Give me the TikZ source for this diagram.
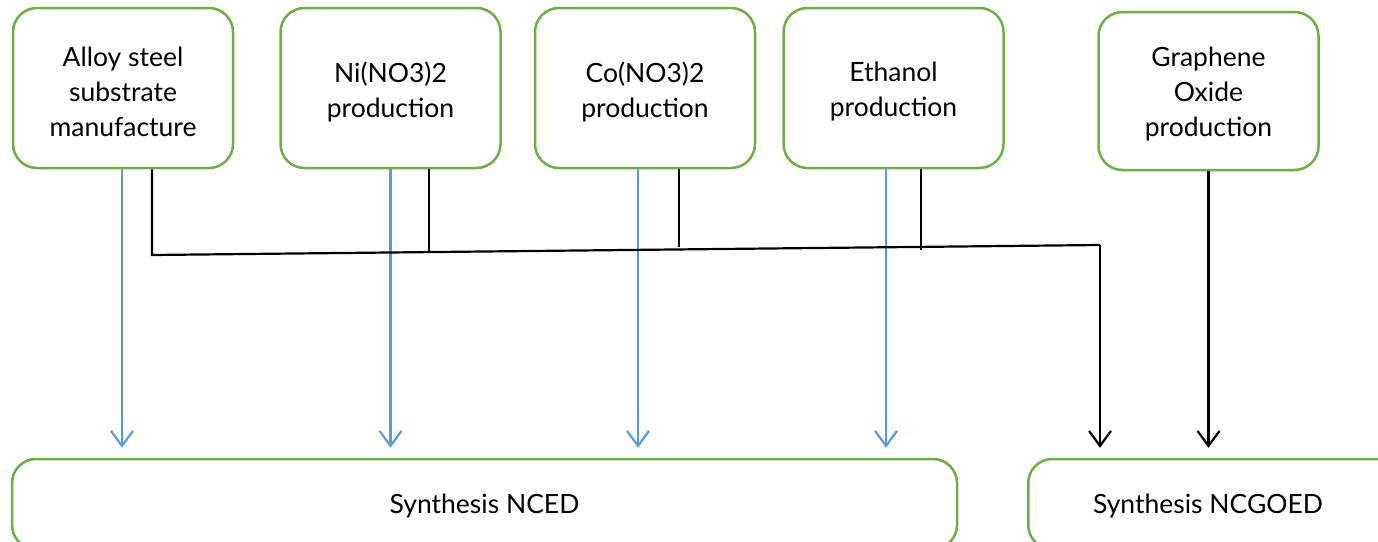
\documentclass[tikz,border=0pt]{standalone}
\usepackage{fontspec}
\setmainfont{Lato}
\usetikzlibrary{arrows.meta,calc}
\definecolor{boxgreen}{HTML}{70AD47}
\definecolor{arrowblue}{HTML}{5B9BD5}
\begin{document}
\begin{tikzpicture}[x=1pt,y=-1pt,
  srcbox/.style={draw=boxgreen,line width=2.5pt,rounded corners=24pt,fill=white,
    minimum width=220pt,minimum height=160pt,inner sep=0pt},
  synbox/.style={draw=boxgreen,line width=2.5pt,rounded corners=24pt,fill=white,
    minimum height=90pt,inner sep=0pt},
  txt/.style={align=center,font=\fontsize{26.5}{35}\selectfont,inner sep=0pt},
  bluearrow/.style={draw=arrowblue,line width=2.2pt,-{Straight Barb[length=15pt,width=22pt,line width=2.2pt]}},
  blackarrow/.style={draw=black,line width=2.2pt,-{Straight Barb[length=15pt,width=22pt,line width=2.2pt]}},
  blackline/.style={draw=black,line width=2.2pt}]
\useasboundingbox (0,0) rectangle (1378,541);
\clip (0,0) rectangle (1378,541);
\node[srcbox,label={[txt,yshift=-4pt]center:Alloy steel\\substrate\\manufacture}] (n1) at (123,88) {};
\node[srcbox,label={[txt,yshift=-4pt]center:Ni(NO3)2\\production}] (n2) at (390.5,88) {};
\node[srcbox,label={[txt,yshift=-4pt]center:Co(NO3)2\\production}] (n3) at (645,88) {};
\node[srcbox,label={[txt,yshift=-4pt]center:Ethanol\\production}] (n4) at (893.5,88) {};
\node[srcbox,minimum height=158pt,label={[txt,yshift=-3pt]center:Graphene\\Oxide\\production}] (n5) at (1208.5,91) {};
\node[synbox,minimum width=945pt,label={[txt,yshift=-2pt]center:Synthesis NCED}] (s1) at (484.5,504) {};
\node[synbox,minimum width=400pt,anchor=west] (s2) at (1027,504) {};
\node[txt,yshift=-2pt] (s2t) at (1208,504) {Synthesis NCGOED};
% blue arrows
\draw[bluearrow] ([xshift=-1pt]n1.south) -- ($([xshift=-1pt]n1.south |- s1.north)+(0,-10)$);
\draw[bluearrow] (n2.south) -- ($(n2.south |- s1.north)+(0,-10)$);
\draw[bluearrow] ([xshift=-7pt]n3.south) -- ($([xshift=-7pt]n3.south |- s1.north)+(0,-10)$);
\draw[bluearrow] ([xshift=-7.5pt]n4.south) -- ($([xshift=-7.5pt]n4.south |- s1.north)+(0,-10)$);
% black connectors
\coordinate (j1) at (152,255);
\coordinate (j2) at (1100,245);
\draw[blackline] ([xshift=29pt]n1.south) -- (j1) -- (j2);
\draw[blackarrow] (j2) -- ($(j2 |- s2.north)+(0,-10)$);
\draw[blackline] ([xshift=38.5pt]n2.south) -- ([xshift=38.5pt]n2.south |- 0,252.5);
\draw[blackline] ([xshift=34pt]n3.south) -- ([xshift=34pt]n3.south |- 0,247);
\draw[blackline] ([xshift=27.5pt]n4.south) -- ([xshift=27.5pt]n4.south |- 0,250);
\draw[blackarrow] (n5.south) -- ($(n5.south |- s2.north)+(0,-10)$);
\end{tikzpicture}
\end{document}
